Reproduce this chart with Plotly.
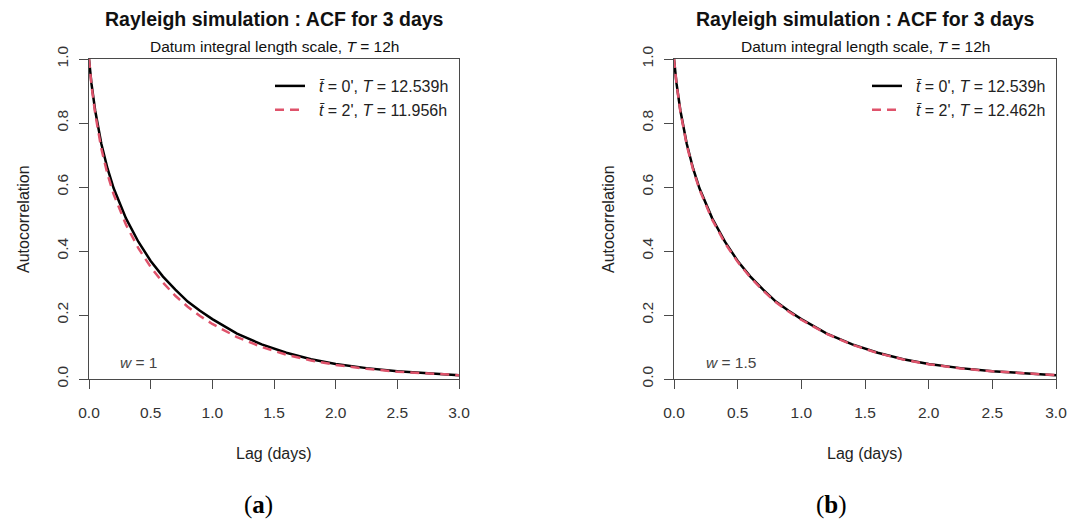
import plotly.graph_objects as go

W, H = 1082, 528

# ---------------- data ----------------
lag_days = [0, 0.02, 0.05, 0.1, 0.15, 0.2, 0.3, 0.4, 0.5, 0.6, 0.7, 0.8, 0.9,
            1.0, 1.2, 1.4, 1.6, 1.8, 2.0, 2.25, 2.5, 2.75, 3.0]

acf_a_t0 = [1.0, 0.923, 0.839, 0.735, 0.658, 0.596, 0.502, 0.429, 0.369, 0.320, 0.279, 0.242, 0.213,
            0.187, 0.142, 0.108, 0.082, 0.062, 0.047, 0.034, 0.024, 0.017, 0.012]
acf_a_t2 = [1.0, 0.918, 0.830, 0.720, 0.640, 0.577, 0.482, 0.409, 0.350, 0.301, 0.260, 0.226, 0.197,
            0.172, 0.131, 0.100, 0.076, 0.058, 0.044, 0.032, 0.023, 0.0165, 0.012]
acf_b_t0 = acf_a_t0
acf_b_t2 = [1.0, 0.921, 0.836, 0.731, 0.654, 0.592, 0.498, 0.425, 0.366, 0.317, 0.276, 0.240, 0.211,
            0.185, 0.141, 0.107, 0.081, 0.061, 0.046, 0.033, 0.024, 0.017, 0.012]

legend_a = ["<i>t\u0304</i> = 0', <i>T</i> = 12.539h", "<i>t\u0304</i> = 2', <i>T</i> = 11.956h"]
legend_b = ["<i>t\u0304</i> = 0', <i>T</i> = 12.539h", "<i>t\u0304</i> = 2', <i>T</i> = 12.462h"]
w_labels = ["<i>w</i> = 1", "<i>w</i> = 1.5"]
panel_labels = ["(<b>a</b>)", "(<b>b</b>)"]
title_text = "<b>Rayleigh simulation : ACF for 3 days</b>"
subtitle_text = "Datum integral length scale, <i>T</i> = 12h"
x_ticks = [0, 0.5, 1.0, 1.5, 2.0, 2.5, 3.0]
y_ticks = [0, 0.2, 0.4, 0.6, 0.8, 1.0]

BLACK = "#000000"
RED = "#DF536B"
AX = "#4a4a4a"
FONT = "Liberation Sans, Arial, sans-serif"
PAD = "\u00a0\u00a0"

# ---------------- layout helpers (pixel -> paper) ----------------
def px(x):
    return x / W

def py(y):
    return 1 - y / H

panels = [
    dict(x0=89, x1=459, xa="x", ya="y", leg="legend", lab=258),
    dict(x0=674, x1=1056, xa="x2", ya="y2", leg="legend2", lab=831),
]
TOP, BOT = 59, 379

fig = go.Figure()

series = [(acf_a_t0, acf_a_t2, legend_a), (acf_b_t0, acf_b_t2, legend_b)]
for p, (s0, s2, lg) in zip(panels, series):
    fig.add_trace(go.Scatter(x=lag_days, y=s0, mode="lines", name=PAD + lg[0],
                             line=dict(color=BLACK, width=2.5),
                             xaxis=p["xa"], yaxis=p["ya"], legend=p["leg"],
                             legendgroup=p["leg"] + "a"))
    fig.add_trace(go.Scatter(x=lag_days, y=s2, mode="lines", name=PAD + lg[1],
                             line=dict(color=RED, width=2.5, dash="9px,6px"),
                             xaxis=p["xa"], yaxis=p["ya"], legend=p["leg"],
                             legendgroup=p["leg"] + "b"))

axis_common = dict(showline=True, linecolor=AX, linewidth=1, mirror=True,
                   ticks="outside", ticklen=9, tickcolor=AX, tickwidth=1,
                   showgrid=False, zeroline=False, automargin=False,
                   tickfont=dict(family=FONT, size=15.5, color="#333333"))

layout = dict(width=W, height=H, autosize=False,
              margin=dict(l=0, r=0, t=0, b=0, autoexpand=False),
              paper_bgcolor="white", plot_bgcolor="white",
              font=dict(family=FONT, color="#222222"))

for i, p in enumerate(panels):
    sfx = "" if i == 0 else "2"
    layout["xaxis" + sfx] = dict(axis_common, domain=[px(p["x0"]), px(p["x1"])],
                                 range=[0, 3], tickvals=x_ticks, tickformat=".1f",
                                 anchor="y" + sfx, ticklabelstandoff=10)
    layout["yaxis" + sfx] = dict(axis_common, domain=[py(BOT), py(TOP)],
                                 range=[0, 1], tickvals=y_ticks, tickformat=".1f",
                                 anchor="x" + sfx, tickangle=-90, ticklabelstandoff=5)
    layout[p["leg"]] = dict(x=px(p["x1"] - 189), y=py(69), xanchor="left", yanchor="top",
                            bgcolor="rgba(0,0,0,0)", borderwidth=0,
                            font=dict(family=FONT, size=16, color="#222222"),
                            tracegroupgap=6, traceorder="normal")

fig.update_layout(**layout)

annotations = []
for i, p in enumerate(panels):
    cx = (p["x0"] + p["x1"]) / 2
    common = dict(xref="paper", yref="paper", showarrow=False,
                  xanchor="center", yanchor="middle")
    annotations.append(dict(common, x=px(cx), y=py(19), text=title_text,
                            font=dict(family=FONT, size=19.5, color="#111111")))
    annotations.append(dict(common, x=px(cx), y=py(46), text=subtitle_text,
                            font=dict(family=FONT, size=15.5, color="#111111")))
    annotations.append(dict(common, x=px(cx), y=py(453), text="Lag (days)",
                            font=dict(family=FONT, size=16, color="#222222")))
    annotations.append(dict(common, x=px(p["x0"] - 66), y=py(219), text="Autocorrelation",
                            textangle=-90,
                            font=dict(family=FONT, size=16, color="#222222")))
    annotations.append(dict(x=0.235, y=0.053, xref=p["xa"], yref=p["ya"],
                            text=w_labels[i], showarrow=False, xanchor="left",
                            yanchor="middle",
                            font=dict(family=FONT, size=15.5, color="#444444")))
    annotations.append(dict(common, x=px(p["lab"]), y=py(505), text=panel_labels[i],
                            font=dict(family="Liberation Serif, DejaVu Serif, serif", size=25,
                                      color="#000000")))
fig.update_layout(annotations=annotations, showlegend=True)

fig.write_html("out.html")
